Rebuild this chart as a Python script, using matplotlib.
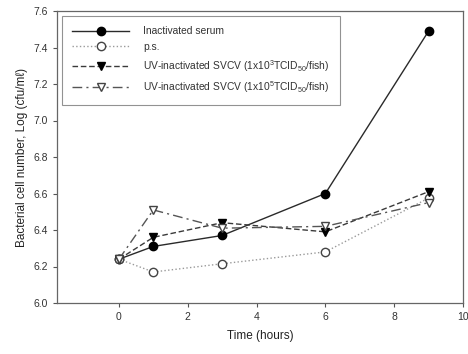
import matplotlib
matplotlib.use("Agg")
import matplotlib.pyplot as plt

plt.rcParams['font.family'] = ['Liberation Sans', 'DejaVu Sans']
plt.rcParams['mathtext.fontset'] = 'custom'
plt.rcParams['mathtext.rm'] = 'Liberation Sans'

time = [0, 1, 3, 6, 9]
inactivated_serum = [6.24, 6.31, 6.37, 6.60, 7.49]
ps = [6.24, 6.17, 6.215, 6.28, 6.575]
uv_1e3 = [6.24, 6.36, 6.44, 6.39, 6.61]
uv_1e5 = [6.24, 6.51, 6.41, 6.42, 6.55]

labels = [
    "Inactivated serum",
    "p.s.",
    "UV-inactivated SVCV (1x10$^{3}$TCID$_{50}$/fish)",
    "UV-inactivated SVCV (1x10$^{5}$TCID$_{50}$/fish)",
]
xticks = [0, 2, 4, 6, 8, 10]
yticks = [6.0, 6.2, 6.4, 6.6, 6.8, 7.0, 7.2, 7.4, 7.6]

fig = plt.figure(figsize=(4.68, 3.54), dpi=100)
ax = fig.add_axes([57/468, 1-303/354, (463-57)/468, (303-11)/354])

ms = 6
ax.plot(time, inactivated_serum, '-', color='#2a2a2a', lw=1.0, marker='o', ms=ms,
        mfc='black', mec='black', label=labels[0])
ax.plot(time, ps, ':', color='#9a9a9a', lw=1.0, marker='o', ms=ms,
        mfc='white', mec='#444444', mew=1.0, label=labels[1])
ax.plot(time, uv_1e3, '--', color='#3a3a3a', lw=1.0, marker='v', ms=ms,
        mfc='black', mec='black', label=labels[2], dashes=(4, 2))
ax.plot(time, uv_1e5, '-.', color='#555555', lw=1.0, marker='v', ms=ms,
        mfc='white', mec='#444444', mew=1.0, label=labels[3], dashes=(7, 3, 1.5, 3))

ax.set_xlim(-1.8, 10)
ax.set_ylim(6.0, 7.6)
ax.set_xticks(xticks)
ax.set_yticks(yticks)
ax.set_xticklabels([str(t) for t in xticks])
ax.set_yticklabels([f"{v:.1f}" for v in yticks])
ax.tick_params(direction='out', length=3, width=0.8, colors='#555555',
               labelsize=7.5, labelcolor='#333333')
for s in ax.spines.values():
    s.set_color('#666666')
    s.set_linewidth(0.9)

ax.set_xlabel("Time (hours)", fontsize=8.5, color='#222222', labelpad=6)
ax.set_ylabel("Bacterial cell number, Log (cfu/mℓ)", fontsize=8.5, color='#222222', labelpad=4)

leg = ax.legend(loc='upper left', bbox_to_anchor=(0.0, 1.0), fontsize=7.4,
                handlelength=5.5, frameon=True, fancybox=False,
                edgecolor='#777777', borderpad=1.0, labelspacing=0.55,
                handletextpad=1.4, borderaxespad=0.5)
leg.get_frame().set_linewidth(0.8)
for t in leg.get_texts():
    t.set_color('#333333')

fig.savefig("out.png", dpi=100)
